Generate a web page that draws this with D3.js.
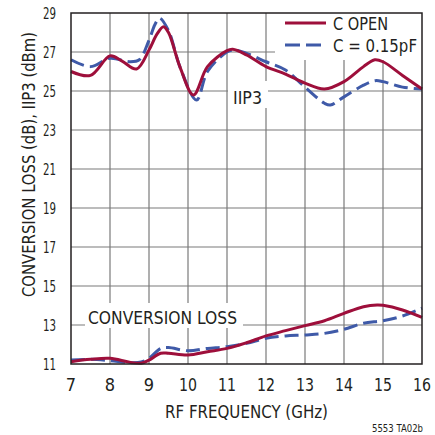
<!DOCTYPE html>
<html><head><meta charset="utf-8">
<script src="https://cdn.jsdelivr.net/npm/d3@7"></script>
<style>
body{margin:0;background:#fff;}
text{font-family:"Liberation Sans Narrow","DejaVu Sans Condensed",sans-serif;fill:#231f20;}
</style></head><body>
<svg id="c" width="435" height="435"></svg>
<script>
// ---- data ----
const xTicks = [7,8,9,10,11,12,13,14,15,16];
const yTicks = [11,13,15,17,19,21,23,25,27,29];
const seriesNames = ["C OPEN", "C = 0.15pF"];

const iip3OpenF = [7.0,7.5,8.0,8.3,8.68,9.0,9.2,9.37,9.5,9.8,10.14,10.5,11.0,11.15,11.5,12.0,12.5,13.0,13.5,14.0,14.5,14.79,15.0,15.5,16.0];
const iip3OpenV = [26.0,25.8,26.8,26.55,26.13,27.1,27.9,28.3,28.0,26.2,24.8,26.25,27.07,27.14,26.85,26.25,25.87,25.4,25.1,25.48,26.25,26.6,26.5,25.8,25.1];

const iip3CapF = [7.0,7.5,8.0,8.5,8.75,9.0,9.15,9.27,9.5,9.8,10.22,10.5,11.0,11.2,11.5,12.0,12.5,13.0,13.5,13.65,14.0,14.5,14.8,15.0,15.5,16.0];
const iip3CapV = [26.6,26.25,26.68,26.5,26.6,27.6,28.4,28.73,28.1,26.2,24.54,26.0,27.0,27.1,26.93,26.5,26.08,25.2,24.37,24.28,24.7,25.3,25.53,25.48,25.2,25.1];

const clOpenF = [7.0,7.5,8.0,8.5,8.8,9.0,9.3,9.5,10.0,10.5,11.0,11.5,12.0,12.5,13.0,13.5,14.0,14.5,14.85,15.0,15.5,16.0];
const clOpenV = [11.12,11.24,11.29,11.09,11.04,11.2,11.55,11.55,11.46,11.63,11.8,12.09,12.44,12.71,12.97,13.22,13.6,13.94,14.03,14.01,13.77,13.39];

const clCapF = [7.0,7.5,8.0,8.5,8.8,9.0,9.3,9.5,10.0,10.5,11.0,11.5,12.0,12.5,13.0,13.5,14.0,14.5,15.0,15.5,16.0];
const clCapV = [11.2,11.24,11.17,11.07,11.1,11.29,11.8,11.84,11.68,11.8,11.89,12.06,12.32,12.44,12.49,12.57,12.78,13.09,13.22,13.46,13.86];

// ---- layout ----
const svg = d3.select("#c");
const L = 71, R = 422, T = 13, B = 364;
const x = d3.scaleLinear().domain([7,16]).range([L,R]);
const y = d3.scaleLinear().domain([11,29]).range([B,T]);
const RED = "#9e0f3b", BLUE = "#3f5aa8";

function txt(px,py,s,size,len,anchor){
  const t = svg.append("text").attr("x",px).attr("y",py).attr("font-size",size)
    .attr("text-anchor",anchor||"start").text(s);
  if(len) t.attr("textLength",len).attr("lengthAdjust","spacingAndGlyphs");
  return t;
}

// grid
const g = svg.append("g");
g.selectAll(".vx").data(xTicks.slice(1,-1)).enter().append("line")
  .attr("x1",d=>x(d)).attr("x2",d=>x(d)).attr("y1",T).attr("y2",B)
  .attr("stroke","#7a7a7a").attr("stroke-width",1.2);
g.selectAll(".hy").data(yTicks.slice(1,-1)).enter().append("line")
  .attr("y1",d=>y(d)).attr("y2",d=>y(d)).attr("x1",L).attr("x2",R)
  .attr("stroke","#7a7a7a").attr("stroke-width",1.2);

// white boxes behind labels / legend
svg.append("rect").attr("x",275).attr("y",T).attr("width",R-275).attr("height",47).attr("fill","#fff");
svg.append("rect").attr("x",228).attr("y",81).attr("width",40).attr("height",27).attr("fill","#fff");
svg.append("rect").attr("x",85).attr("y",303).attr("width",158).attr("height",25).attr("fill","#fff");

// labels inside
txt(233,104,"IIP3",18,29);
txt(88,324,"CONVERSION LOSS",18,149);

// curves
const line = d3.line().x(d=>x(d[0])).y(d=>y(d[1])).curve(d3.curveCatmullRom.alpha(0.5));
function draw(F,V,color,dash){
  svg.append("path").datum(F.map((f,i)=>[f,V[i]])).attr("d",line)
    .attr("fill","none").attr("stroke",color).attr("stroke-width",3)
    .attr("stroke-dasharray",dash||null).attr("stroke-linecap","butt");
}
draw(iip3CapF,iip3CapV,BLUE,"14,6");
draw(clCapF,clCapV,BLUE,"14,6");
draw(iip3OpenF,iip3OpenV,RED);
draw(clOpenF,clOpenV,RED);

// frame
svg.append("rect").attr("x",L).attr("y",T).attr("width",R-L).attr("height",B-T)
  .attr("fill","none").attr("stroke","#231f20").attr("stroke-width",1.5);

// legend
const leg = [{n:seriesNames[0],c:RED,d:null,y:23,w:55},{n:seriesNames[1],c:BLUE,d:"15,6",y:45,w:84}];
leg.forEach(l=>{
  svg.append("line").attr("x1",285).attr("x2",326).attr("y1",l.y).attr("y2",l.y)
    .attr("stroke",l.c).attr("stroke-width",3).attr("stroke-dasharray",l.d);
  txt(333,l.y+6.5,l.n,18,l.w);
});

// axes tick labels
xTicks.forEach(d=>{
  txt(x(d),391,String(d),18,String(d).length>1?18:null,"middle");
});
yTicks.forEach(d=>{
  txt(56,y(d)+6,String(d),16,13,"end");
});

// axis titles
txt(165,418,"RF FREQUENCY (GHz)",18,163);
svg.append("text").attr("transform","translate(35,297) rotate(-90)")
  .attr("font-size",18).attr("textLength",265).attr("lengthAdjust","spacingAndGlyphs")
  .text("CONVERSION LOSS (dB), IIP3 (dBm)");
txt(372,432,"5553 TA02b",11,51);
</script></body></html>
